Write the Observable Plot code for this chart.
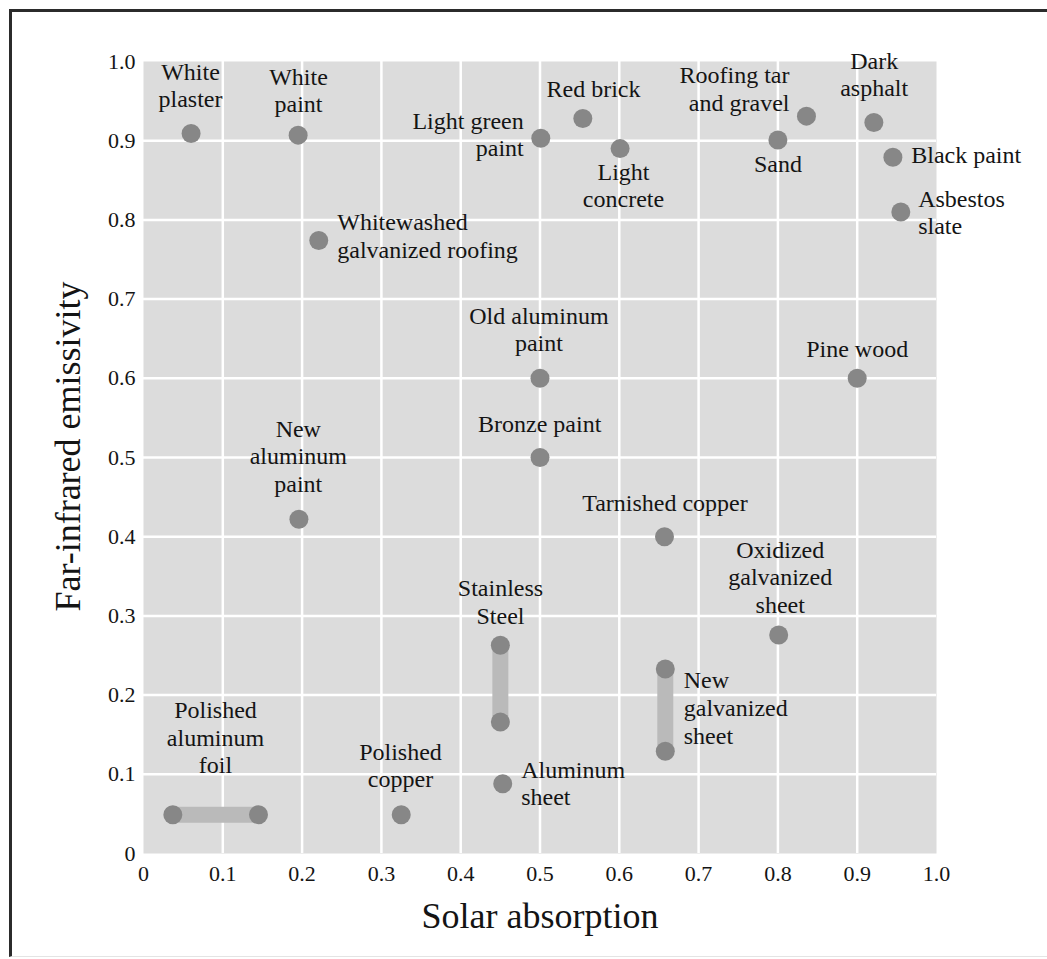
<!DOCTYPE html>
<html>
<head>
<meta charset="utf-8">
<script src="https://cdn.jsdelivr.net/npm/d3@7"></script>
<script src="https://cdn.jsdelivr.net/npm/@observablehq/plot@0.6"></script>
<style>
  html, body { margin: 0; padding: 0; background: #fff; }
  #wrap { position: relative; width: 1047px; height: 959px; overflow: hidden; }
  #frameline { position: absolute; left: 8.5px; top: 8.5px; right: -10px; bottom: 2px;
    border-left: 3px solid #2b2b2b; border-top: 3px solid #2b2b2b; border-bottom: 1px solid #e4e4e4; pointer-events: none; }
</style>
</head>
<body>
<div id="wrap"><div id="frameline"></div></div>
<script>
// ---- Data: single materials ----
const materials = ["White plaster", "White paint", "Whitewashed galvanized roofing", "Light green paint",
  "Red brick", "Light concrete", "Sand", "Roofing tar and gravel", "Dark asphalt", "Black paint",
  "Asbestos slate", "Old aluminum paint", "Bronze paint", "New aluminum paint", "Pine wood",
  "Tarnished copper", "Oxidized galvanized sheet", "Aluminum sheet", "Polished copper"];
const absorption = [0.060, 0.195, 0.221, 0.501, 0.554, 0.601, 0.800, 0.836, 0.921, 0.945,
  0.955, 0.500, 0.500, 0.196, 0.900, 0.657, 0.801, 0.453, 0.325];
const emissivity = [0.909, 0.907, 0.774, 0.903, 0.928, 0.890, 0.901, 0.931, 0.923, 0.879,
  0.810, 0.600, 0.500, 0.422, 0.600, 0.400, 0.276, 0.088, 0.049];

// ---- Data: materials given as ranges ----
const rangeMaterials = ["Polished aluminum foil", "Stainless Steel", "New galvanized sheet"];
const rangeAbsLow  = [0.037, 0.450, 0.658];
const rangeAbsHigh = [0.145, 0.450, 0.658];
const rangeEmiLow  = [0.049, 0.166, 0.129];
const rangeEmiHigh = [0.049, 0.263, 0.233];

// ---- Annotation labels (anchor in data units) ----
const labelText = ["White\nplaster", "White\npaint", "Whitewashed\ngalvanized roofing", "Light green\npaint",
  "Red brick", "Light\nconcrete", "Sand", "Roofing tar\nand gravel", "Dark\nasphalt", "Black paint",
  "Asbestos\nslate", "Old aluminum\npaint", "Bronze paint", "New\naluminum\npaint", "Pine wood",
  "Tarnished copper", "Oxidized\ngalvanized\nsheet", "Aluminum\nsheet", "Polished\ncopper",
  "Polished\naluminum\nfoil", "Stainless\nSteel", "New\ngalvanized\nsheet"];
const labelX = [0.0593, 0.1955, 0.2443, 0.4795, 0.5675, 0.6053, 0.800, 0.8146, 0.9214, 0.9681,
  0.9769, 0.4986, 0.4996, 0.1952, 0.900, 0.6576, 0.8029, 0.4763, 0.3241,
  0.0908, 0.4502, 0.6813];
const labelY = [0.971, 0.9645, 0.7806, 0.9088, 0.9668, 0.8444, 0.8722, 0.9665, 0.9846, 0.8831,
  0.8106, 0.6626, 0.5429, 0.5024, 0.6385, 0.4441, 0.350, 0.0894, 0.1121,
  0.1472, 0.3183, 0.1847];
const labelAlign = ["middle", "middle", "start", "end", "middle", "middle", "middle", "end", "middle", "start",
  "start", "middle", "middle", "middle", "middle", "middle", "middle", "start", "middle",
  "middle", "middle", "start"];

// ---- Axes ----
const ticks = [0, 0.1, 0.2, 0.3, 0.4, 0.5, 0.6, 0.7, 0.8, 0.9, 1.0];
const gridTicks = [0.1, 0.2, 0.3, 0.4, 0.5, 0.6, 0.7, 0.8, 0.9];
const xTitle = "Solar absorption";
const yTitle = "Far-infrared emissivity";

const points = materials.map((m, i) => ({name: m, x: absorption[i], y: emissivity[i]}));
const ranges = rangeMaterials.map((m, i) => ({name: m, x1: rangeAbsLow[i], x2: rangeAbsHigh[i], y1: rangeEmiLow[i], y2: rangeEmiHigh[i]}));
const rangeEnds = ranges.flatMap(r => [{x: r.x1, y: r.y1}, {x: r.x2, y: r.y2}]);
const labels = labelText.map((t, i) => ({text: t, x: labelX[i], y: labelY[i], anchor: labelAlign[i]}));
const fmt = d => d === 0 ? "0" : d.toFixed(1);

const FONT = "'Liberation Serif', 'Times New Roman', serif";
const dotFill = "#878787", barFill = "#bababa", textFill = "#141414";

const marks = [
  Plot.frame({fill: "#dcdcdc", stroke: "none"}),
  Plot.ruleX(gridTicks, {stroke: "white", strokeWidth: 2.5}),
  Plot.ruleY(gridTicks, {stroke: "white", strokeWidth: 2.5}),
  Plot.link(ranges, {x1: "x1", y1: "y1", x2: "x2", y2: "y2", stroke: barFill, strokeWidth: 16, strokeLinecap: "butt"}),
  Plot.dot(rangeEnds, {x: "x", y: "y", r: 9.5, fill: dotFill, stroke: "none"}),
  Plot.dot(points, {x: "x", y: "y", r: 9.5, fill: dotFill, stroke: "none"})
];
for (const a of ["start", "middle", "end"]) {
  marks.push(Plot.text(labels.filter(d => d.anchor === a), {
    x: "x", y: "y", text: "text", textAnchor: a, lineAnchor: "middle", lineHeight: 1.15,
    fontSize: 24, fill: textFill, fontFamily: FONT
  }));
}
marks.push(Plot.text([xTitle], {frameAnchor: "bottom", textAnchor: "middle", lineAnchor: "middle", dy: 62.5, fontSize: 36, fill: textFill, fontFamily: FONT}));
marks.push(Plot.text([yTitle], {frameAnchor: "left", textAnchor: "middle", lineAnchor: "middle", dx: -75, dy: -11, rotate: -90, fontSize: 36, fill: textFill, fontFamily: FONT}));

const chart = Plot.plot({
  width: 1047,
  height: 959,
  marginLeft: 143,
  marginRight: 111,
  marginTop: 61,
  marginBottom: 106,
  style: {fontFamily: FONT, fontSize: "22px", color: textFill, background: "transparent", overflow: "visible"},
  x: {domain: [0, 1], ticks: ticks, tickFormat: fmt, tickSize: 0, tickPadding: 12, label: null},
  y: {domain: [0, 1], ticks: ticks, tickFormat: fmt, tickSize: 0, tickPadding: 8, label: null},
  marks
});
document.getElementById("wrap").appendChild(chart);
</script>
</body>
</html>
